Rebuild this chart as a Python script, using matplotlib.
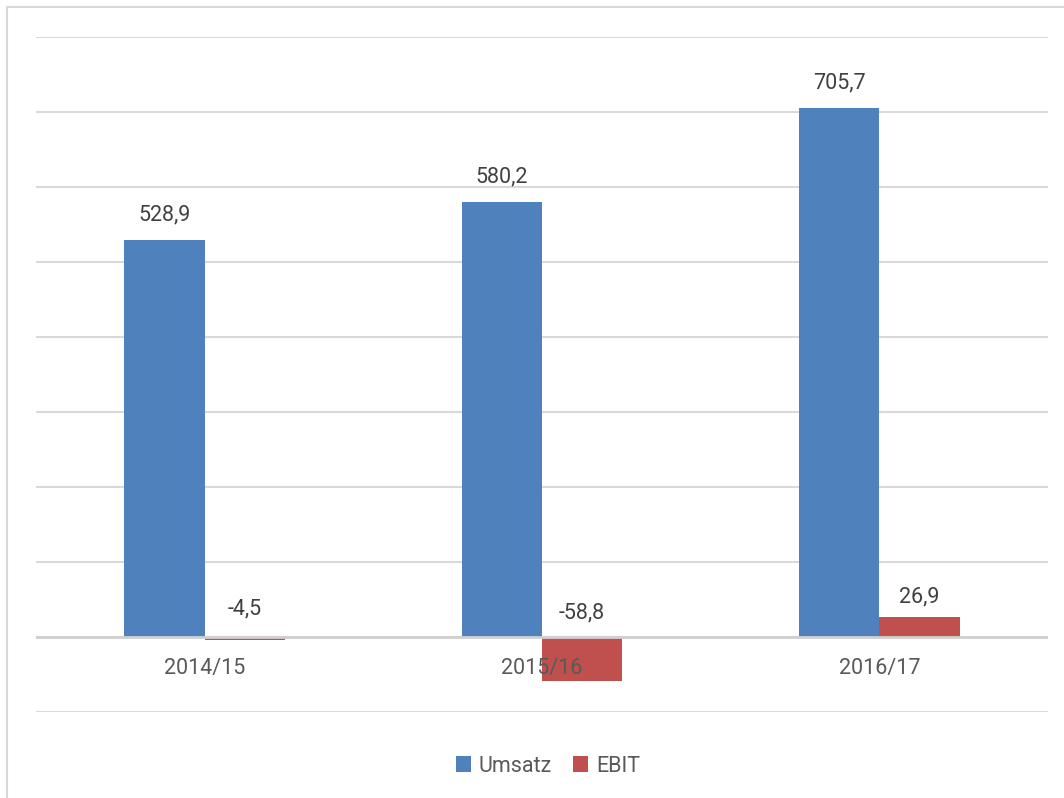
import numpy as np
import matplotlib.pyplot as plt
from matplotlib.patches import Rectangle

# data
years = ['2014/15', '2015/16', '2016/17']
umsatz = [528.9, 580.2, 705.7]
ebit = [-4.5, -58.8, 26.9]

blue = '#4F81BD'
red = '#C0504D'
grey_txt = '#595959'
grid_c = '#D9D9D9'

plt.rcParams['font.family'] = ['Liberation Sans Narrow', 'Roboto', 'DejaVu Sans']

fig = plt.figure(figsize=(10.64, 7.98), dpi=100)
W, H = 1064, 798
ax = fig.add_axes([36 / W, 1 - 712 / H, (1048 - 36) / W, (712 - 37) / H])

# outer frame (cut off at right and bottom)
fig.patches.append(Rectangle((7 / W, -0.1), 1.2, 1 - 7 / H + 0.1, transform=fig.transFigure,
                             fill=False, edgecolor='#D9D9D9', linewidth=1.5))

x = np.arange(len(years))
w = 0.238
b1 = ax.bar(x - w / 2, umsatz, w, color=blue, label='Umsatz', zorder=3)
b2 = ax.bar(x + w / 2, ebit, w, color=red, label='EBIT', zorder=3)

def fmt(v):
    return f'{v:.1f}'.replace('.', ',')

for xi, v in zip(x - w / 2, umsatz):
    ax.annotate(fmt(v), (xi, max(v, 0)), xytext=(0, 10.5), textcoords='offset points',
                ha='center', va='bottom', fontsize=15.5, color='#404040')
ebit_off = [13, 9.5, 6.5]
for xi, v, off in zip(x + w / 2, ebit, ebit_off):
    ax.annotate(fmt(v), (xi, max(v, 0)), xytext=(0, off), textcoords='offset points',
                ha='center', va='bottom', fontsize=15.5, color='#404040')

ax.set_xlim(-0.5, 2.5)
ax.set_ylim(-100, 800)
ax.set_yticks(np.arange(-100, 801, 100))
ax.yaxis.grid(True, color=grid_c, linewidth=1.5, zorder=0)
ax.axhline(0, color='#D0D0D0', linewidth=2, zorder=4)
ax.tick_params(axis='y', length=0, labelleft=False)
ax.set_xticks(x)
ax.set_xticklabels([])
ax.tick_params(axis='x', length=0)
# category labels just below the zero line
for xi, yr in zip(x, years):
    ax.text(xi, -42, yr, ha='center', va='center', fontsize=15.5, color=grey_txt, zorder=5)
for s in ax.spines.values():
    s.set_visible(False)

fig.legend(handles=[b1, b2], labels=['Umsatz', 'EBIT'], loc='center',
           bbox_to_anchor=(548 / W, 1 - 766 / H), ncol=2, frameon=False,
           fontsize=15.5, labelcolor=grey_txt, handlelength=0.7, handleheight=0.7,
           handletextpad=0.35, columnspacing=1.0)

fig.savefig('out.png', dpi=100)
